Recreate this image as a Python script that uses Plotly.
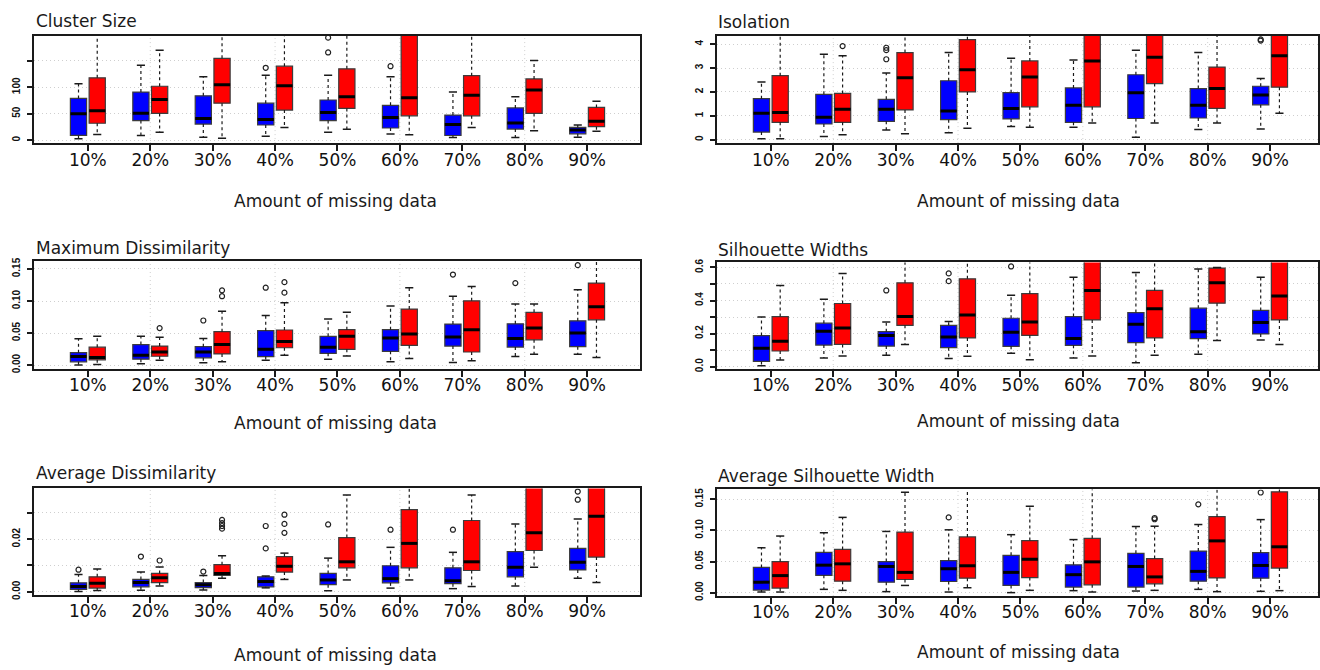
import plotly.graph_objects as go

W, H = 1320, 670
CATEGORIES = ["10%", "20%", "30%", "40%", "50%", "60%", "70%", "80%", "90%"]
X_TITLE = "Amount of missing data"

# ---------------- Cluster Size ----------------
cs_blue_lo = [2.5, 8.7, 5.6, 7.5, 15, 11.8, 5, 5, 5.6]
cs_blue_q1 = [9, 37, 30.5, 28.7, 37, 23, 8.8, 21, 12]
cs_blue_med = [50, 51, 41, 39, 52.4, 43, 29.4, 32.5, 19.3]
cs_blue_q3 = [79, 91, 84, 70, 76, 66, 47.4, 61, 24]
cs_blue_hi = [107, 142, 120, 123, 123, 120, 91, 82, 28.7]
cs_blue_out = [[], [], [], [137], [166, 194], [140], [], [], []]
cs_red_lo = [10.7, 15, 3.7, 24, 20.6, 10, 24, 18, 17]
cs_red_q1 = [32, 50.6, 70, 57, 60, 46, 46, 50.6, 25.6]
cs_red_med = [55.6, 77, 105, 103, 82, 80.5, 85, 95, 35.6]
cs_red_q3 = [118, 102, 155, 140, 135, 215, 122, 116, 62]
cs_red_hi = [240, 170, 260, 250, 230, 300, 230, 151, 73.6]
cs_red_out = [[], [], [], [], [], [], [], [], []]

# ---------------- Isolation ----------------
iso_blue_lo = [0.04, 0.14, 0.41, 0.29, 0.56, 0.52, 0.11, 0.43, 0.45]
iso_blue_q1 = [0.32, 0.66, 0.77, 0.84, 0.87, 0.73, 0.89, 0.91, 1.46]
iso_blue_med = [1.11, 0.94, 1.28, 1.2, 1.31, 1.44, 1.97, 1.44, 1.87]
iso_blue_q3 = [1.72, 1.9, 1.69, 2.47, 1.97, 2.17, 2.72, 2.14, 2.24]
iso_blue_hi = [2.42, 3.58, 2.79, 3.65, 3.41, 3.34, 3.75, 3.65, 2.56]
iso_blue_out = [[], [], [3.37, 3.75, 3.85], [], [], [], [], [], [4.15, 4.2]]
iso_red_lo = [0.04, 0.21, 0.25, 0.48, 0.52, 0.7, 0.7, 0.7, 1.11]
iso_red_q1 = [0.73, 0.73, 1.25, 2.0, 1.38, 1.38, 2.35, 1.31, 2.2]
iso_red_med = [1.14, 1.28, 2.59, 2.93, 2.63, 3.3, 3.45, 2.14, 3.52]
iso_red_q3 = [2.68, 1.94, 3.65, 4.19, 3.3, 4.6, 4.6, 3.04, 4.6]
iso_red_hi = [4.8, 3.52, 4.8, 4.8, 4.8, 4.9, 4.9, 4.8, 4.9]
iso_red_out = [[], [3.92], [], [], [], [], [], [], []]

# ---------------- Maximum Dissimilarity ----------------
md_blue_lo = [0.0, 0.002, 0.0036, 0.0077, 0.0092, 0.0051, 0.0041, 0.0133, 0.0169]
md_blue_q1 = [0.0051, 0.0092, 0.0113, 0.0133, 0.0184, 0.0215, 0.0297, 0.0281, 0.0287]
md_blue_med = [0.0133, 0.0154, 0.0205, 0.0246, 0.028, 0.0425, 0.044, 0.0415, 0.0502]
md_blue_q3 = [0.0194, 0.032, 0.0287, 0.0537, 0.045, 0.0553, 0.064, 0.0645, 0.0691]
md_blue_hi = [0.041, 0.045, 0.0415, 0.0773, 0.072, 0.0921, 0.1075, 0.0952, 0.1177]
md_blue_out = [[], [], [0.0696], [0.1208], [], [], [0.1413], [0.128], [0.156]]
md_red_lo = [0.001, 0.0077, 0.0051, 0.0154, 0.0143, 0.0102, 0.0067, 0.0169, 0.0118]
md_red_q1 = [0.0082, 0.0138, 0.0174, 0.0271, 0.0246, 0.0307, 0.0205, 0.0394, 0.0706]
md_red_med = [0.0118, 0.0205, 0.0322, 0.0368, 0.045, 0.0486, 0.0553, 0.0578, 0.0911]
md_red_q3 = [0.028, 0.0297, 0.0522, 0.0548, 0.0553, 0.0875, 0.1003, 0.0824, 0.128]
md_red_hi = [0.045, 0.0435, 0.084, 0.0972, 0.0824, 0.1208, 0.1228, 0.0952, 0.18]
md_red_out = [[], [0.0578], [0.1075, 0.1167], [0.1131, 0.1295], [], [], [], [], []]

# ---------------- Silhouette Widths ----------------
sw_blue_lo = [0.006, 0.053, 0.069, 0.05, 0.081, 0.053, 0.024, 0.075, 0.162]
sw_blue_q1 = [0.032, 0.131, 0.125, 0.115, 0.123, 0.129, 0.145, 0.17, 0.198]
sw_blue_med = [0.111, 0.214, 0.188, 0.18, 0.208, 0.17, 0.257, 0.212, 0.267]
sw_blue_q3 = [0.188, 0.263, 0.212, 0.25, 0.293, 0.303, 0.327, 0.354, 0.34]
sw_blue_hi = [0.301, 0.408, 0.271, 0.273, 0.432, 0.54, 0.57, 0.59, 0.54]
sw_blue_out = [[], [], [0.461], [0.517, 0.564], [0.606], [], [], [], []]
sw_red_lo = [0.04, 0.065, 0.135, 0.063, 0.042, 0.065, 0.069, 0.158, 0.135]
sw_red_q1 = [0.095, 0.135, 0.25, 0.174, 0.19, 0.283, 0.174, 0.384, 0.283]
sw_red_med = [0.154, 0.234, 0.303, 0.313, 0.271, 0.461, 0.35, 0.507, 0.428]
sw_red_q3 = [0.303, 0.382, 0.507, 0.531, 0.442, 0.7, 0.461, 0.596, 0.7]
sw_red_hi = [0.491, 0.564, 0.7, 0.7, 0.7, 0.75, 0.7, 0.6, 0.75]
sw_red_out = [[], [], [], [], [], [], [], [], []]

# ---------------- Average Dissimilarity ----------------
ad_blue_lo = [0.0001, 0.0006, 0.0007, 0.0015, 0.0004, 0.0014, 0.0012, 0.0022, 0.0051]
ad_blue_q1 = [0.0009, 0.0019, 0.0016, 0.0019, 0.0027, 0.0034, 0.0031, 0.0057, 0.0083]
ad_blue_med = [0.002, 0.0035, 0.0027, 0.0039, 0.0045, 0.005, 0.0042, 0.0093, 0.0112]
ad_blue_q3 = [0.0034, 0.0047, 0.0035, 0.0057, 0.007, 0.0099, 0.0091, 0.0153, 0.0165]
ad_blue_hi = [0.0066, 0.0075, 0.0062, 0.006, 0.0128, 0.0169, 0.015, 0.0258, 0.0277]
ad_blue_out = [[0.0084], [0.0134], [0.0077], [0.0165, 0.025], [0.0256], [0.0236], [0.0236], [], [0.035, 0.0381]]
ad_red_lo = [0.0005, 0.0022, 0.0051, 0.0047, 0.0045, 0.0045, 0.002, 0.0093, 0.0035]
ad_red_q1 = [0.0014, 0.0035, 0.0062, 0.0075, 0.0091, 0.0091, 0.0081, 0.0157, 0.0132]
ad_red_med = [0.0032, 0.0053, 0.007, 0.0097, 0.0114, 0.0184, 0.0114, 0.0224, 0.0287]
ad_red_q3 = [0.0057, 0.007, 0.0103, 0.0134, 0.0206, 0.0312, 0.0271, 0.045, 0.045]
ad_red_hi = [0.0087, 0.0094, 0.0137, 0.0147, 0.0368, 0.045, 0.0368, 0.05, 0.05]
ad_red_out = [[], [0.0119], [0.024, 0.025, 0.0261, 0.0273], [0.0224, 0.0258, 0.0293], [], [], [], [], []]

# ---------------- Average Silhouette Width ----------------
as_blue_lo = [0.001, 0.0053, 0.0016, 0.001, 0.0, 0.0032, 0.0026, 0.0053, 0.0021]
as_blue_q1 = [0.0042, 0.0279, 0.0168, 0.0179, 0.0116, 0.0089, 0.0089, 0.0184, 0.0232]
as_blue_med = [0.0168, 0.0442, 0.0421, 0.0384, 0.0326, 0.0289, 0.0421, 0.0342, 0.0437]
as_blue_q3 = [0.0405, 0.0647, 0.05, 0.0516, 0.06, 0.0447, 0.0632, 0.0668, 0.0642]
as_blue_hi = [0.0721, 0.0963, 0.0984, 0.101, 0.0932, 0.0853, 0.1063, 0.1095, 0.1174]
as_blue_out = [[], [], [], [0.121], [], [], [], [0.142], [0.161]]
as_red_lo = [0.001, 0.0037, 0.0116, 0.0079, 0.0037, 0.001, 0.0037, 0.0016, 0.0032]
as_red_q1 = [0.0074, 0.0184, 0.0211, 0.0232, 0.0242, 0.0126, 0.0142, 0.0237, 0.0395]
as_red_med = [0.0274, 0.0463, 0.0326, 0.0432, 0.0537, 0.0495, 0.0253, 0.0832, 0.0737]
as_red_q3 = [0.05, 0.0695, 0.0974, 0.0895, 0.0837, 0.0874, 0.0547, 0.1221, 0.1621]
as_red_hi = [0.091, 0.121, 0.1616, 0.19, 0.139, 0.19, 0.1068, 0.19, 0.19]
as_red_out = [[], [], [], [], [], [], [0.118, 0.12], [], []]

# ---------------- panel definitions ----------------
PANELS = [
    dict(title="Cluster Size", col=0, top=32, bot=141, yr=[-5.6, 198],
         tv=[0, 50, 100, 150], tt=["0", "50", "100", ""],
         blue=(cs_blue_lo, cs_blue_q1, cs_blue_med, cs_blue_q3, cs_blue_hi, cs_blue_out),
         red=(cs_red_lo, cs_red_q1, cs_red_med, cs_red_q3, cs_red_hi, cs_red_out),
         ty=17.5, xty=200),
    dict(title="Isolation", col=1, top=32, bot=141, yr=[-0.14, 4.36],
         tv=[0, 1, 2, 3, 4], tt=["0", "1", "2", "3", "4"],
         blue=(iso_blue_lo, iso_blue_q1, iso_blue_med, iso_blue_q3, iso_blue_hi, iso_blue_out),
         red=(iso_red_lo, iso_red_q1, iso_red_med, iso_red_q3, iso_red_hi, iso_red_out),
         ty=18.5, xty=200),
    dict(title="Maximum Dissimilarity", col=0, top=261, bot=370, yr=[-0.0061, 0.1617],
         tv=[0, 0.05, 0.10, 0.15], tt=["0.00", "0.05", "0.10", "0.15"],
         blue=(md_blue_lo, md_blue_q1, md_blue_med, md_blue_q3, md_blue_hi, md_blue_out),
         red=(md_red_lo, md_red_q1, md_red_med, md_red_q3, md_red_hi, md_red_out),
         ty=247, xty=425),
    dict(title="Silhouette Widths", col=1, top=262, bot=370, yr=[-0.014, 0.63],
         tv=[0, 0.1, 0.2, 0.3, 0.4, 0.5, 0.6], tt=["0.0", "", "0.2", "", "0.4", "", "0.6"],
         blue=(sw_blue_lo, sw_blue_q1, sw_blue_med, sw_blue_q3, sw_blue_hi, sw_blue_out),
         red=(sw_red_lo, sw_red_q1, sw_red_med, sw_red_q3, sw_red_hi, sw_red_out),
         ty=249, xty=423),
    dict(title="Average Dissimilarity", col=0, top=491, bot=599, yr=[-0.0012, 0.0393],
         tv=[0, 0.01, 0.02, 0.03], tt=["0.00", "", "0.02", ""],
         blue=(ad_blue_lo, ad_blue_q1, ad_blue_med, ad_blue_q3, ad_blue_hi, ad_blue_out),
         red=(ad_red_lo, ad_red_q1, ad_red_med, ad_red_q3, ad_red_hi, ad_red_out),
         ty=475.5, xty=660),
    dict(title="Average Silhouette Width", col=1, top=492, bot=600, yr=[-0.0053, 0.166],
         tv=[0, 0.05, 0.10, 0.15], tt=["0.00", "0.05", "0.10", "0.15"],
         blue=(as_blue_lo, as_blue_q1, as_blue_med, as_blue_q3, as_blue_hi, as_blue_out),
         red=(as_red_lo, as_red_q1, as_red_med, as_red_q3, as_red_hi, as_red_out),
         ty=478.5, xty=657),
]

COL_X = [(34, 641), (718, 1320)]
COL_RANGE = [[0.136, 9.848], [0.136, 9.768]]
TITLE_X = [34, 717]
XT_CENTER = [336, 1020]

BLUE, RED = "#0000FF", "#FF0000"
OFFSET, BOXW, CAPW = 0.15, 0.26, 0.13
LINE_DARK = "#1a1a1a"
GRID = "#cfcfcf"

fig = go.Figure()
shapes, annotations = [], []
layout_axes = {}

for i, p in enumerate(PANELS, start=1):
    xa = "x" if i == 1 else f"x{i}"
    ya = "y" if i == 1 else f"y{i}"
    xkey = "xaxis" if i == 1 else f"xaxis{i}"
    ykey = "yaxis" if i == 1 else f"yaxis{i}"
    c = p["col"]
    pos0 = list(range(1, len(CATEGORIES) + 1))

    for stats, color, off in ((p["blue"], BLUE, -OFFSET), (p["red"], RED, OFFSET)):
        lo, q1, med, q3, hi, out = stats
        pos = [k + off for k in pos0]
        # whiskers (dashed)
        wx, wy = [], []
        for k in range(len(pos)):
            wx += [pos[k], pos[k], None, pos[k], pos[k], None]
            wy += [q3[k], hi[k], None, q1[k], lo[k], None]
        fig.add_trace(go.Scatter(x=wx, y=wy, mode="lines", xaxis=xa, yaxis=ya,
                                 line=dict(color=LINE_DARK, width=1.2, dash="3px,3px"),
                                 hoverinfo="skip", showlegend=False))
        # caps
        cx, cy = [], []
        for k in range(len(pos)):
            cx += [pos[k] - CAPW / 2, pos[k] + CAPW / 2, None, pos[k] - CAPW / 2, pos[k] + CAPW / 2, None]
            cy += [hi[k], hi[k], None, lo[k], lo[k], None]
        fig.add_trace(go.Scatter(x=cx, y=cy, mode="lines", xaxis=xa, yaxis=ya,
                                 line=dict(color=LINE_DARK, width=1.5),
                                 hoverinfo="skip", showlegend=False))
        # boxes
        fig.add_trace(go.Box(x=pos, q1=q1, median=med, q3=q3, lowerfence=q1, upperfence=q3,
                             width=BOXW, fillcolor=color, line=dict(color="#3c3c3c", width=1.2),
                             boxpoints=False, xaxis=xa, yaxis=ya, hoverinfo="skip",
                             showlegend=False))
        # medians
        mx, my = [], []
        for k in range(len(pos)):
            mx += [pos[k] - BOXW / 2, pos[k] + BOXW / 2, None]
            my += [med[k], med[k], None]
        fig.add_trace(go.Scatter(x=mx, y=my, mode="lines", xaxis=xa, yaxis=ya,
                                 line=dict(color="#000000", width=3),
                                 hoverinfo="skip", showlegend=False))
        # outliers
        ox, oy = [], []
        for k in range(len(pos)):
            for v in out[k]:
                ox.append(pos[k])
                oy.append(v)
        if ox:
            fig.add_trace(go.Scatter(x=ox, y=oy, mode="markers", xaxis=xa, yaxis=ya,
                                     marker=dict(symbol="circle-open", size=5, color="#222222",
                                                 line=dict(width=1.2)),
                                     hoverinfo="skip", showlegend=False, cliponaxis=True))

    x0, x1 = COL_X[c]
    layout_axes[xkey] = dict(
        domain=[x0 / W, x1 / W], range=COL_RANGE[c], anchor=ya,
        tickmode="array", tickvals=pos0, ticktext=CATEGORIES,
        ticks="outside", ticklen=6, tickwidth=1.5, tickcolor=LINE_DARK,
        ticklabelstandoff=-6,
        tickfont=dict(family="DejaVu Sans", size=17, color="#111111"),
        showgrid=False, zeroline=False, showline=True, mirror=True,
        linewidth=2, linecolor=LINE_DARK, fixedrange=True,
    )
    layout_axes[ykey] = dict(
        domain=[1 - p["bot"] / H, 1 - p["top"] / H], range=p["yr"], anchor=xa,
        tickmode="array", tickvals=p["tv"], ticktext=p["tt"],
        ticks="outside", ticklen=5, tickwidth=1.5, tickcolor=LINE_DARK, tickangle=-90,
        ticklabelstandoff=3,
        tickfont=dict(family="Liberation Sans", size=10, color="#111111", weight="bold"),
        showgrid=True, gridcolor=GRID, gridwidth=1, griddash="1px,3px",
        zeroline=False, showline=True, mirror=True, linewidth=2, linecolor=LINE_DARK,
        fixedrange=True,
    )
    # vertical dotted grid at 20%, 40%, 60%, 80%
    for gx in (2, 4, 6, 8):
        shapes.append(dict(type="line", xref=xa, yref=f"{ya} domain", x0=gx, x1=gx, y0=0, y1=1,
                           line=dict(color=GRID, width=1, dash="1px,3px"), layer="below"))
    annotations.append(dict(text=p["title"], xref="paper", yref="paper",
                            x=TITLE_X[c] / W, y=1 - p["ty"] / H, xanchor="left", yanchor="middle",
                            showarrow=False, font=dict(family="DejaVu Sans", size=17, color="#1a1a1a")))
    annotations.append(dict(text=X_TITLE, xref="paper", yref="paper",
                            x=XT_CENTER[c] / W, y=1 - p["xty"] / H, xanchor="center", yanchor="middle",
                            showarrow=False, font=dict(family="DejaVu Sans", size=17, color="#1a1a1a")))

fig.update_layout(
    width=W, height=H, autosize=False,
    margin=dict(l=0, r=0, t=0, b=0),
    paper_bgcolor="white", plot_bgcolor="white",
    showlegend=False, boxmode="overlay",
    shapes=shapes, annotations=annotations,
    **layout_axes,
)

fig.write_html("out.html", config={"displayModeBar": False},
               post_script="document.body.style.margin='0px';document.body.style.overflow='hidden';")
